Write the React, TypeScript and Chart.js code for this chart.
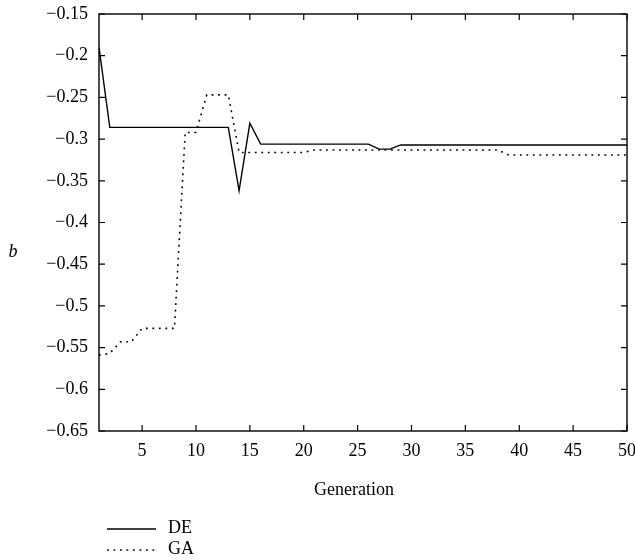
import React, { useEffect, useRef } from "react";
import { Chart, registerables } from "chart.js";

Chart.register(...registerables);

const generations = Array.from({ length: 50 }, (_, i) => i + 1);

// DE best b per generation (1..50)
const deValues = [
  -0.19, -0.286, -0.286, -0.286, -0.286, -0.286, -0.286, -0.286, -0.286, -0.286,
  -0.286, -0.286, -0.286, -0.362, -0.281, -0.306, -0.306, -0.306, -0.306, -0.306,
  -0.306, -0.306, -0.306, -0.306, -0.306, -0.306, -0.312, -0.312, -0.307, -0.307,
  -0.307, -0.307, -0.307, -0.307, -0.307, -0.307, -0.307, -0.307, -0.307, -0.307,
  -0.307, -0.307, -0.307, -0.307, -0.307, -0.307, -0.307, -0.307, -0.307, -0.307,
];

// GA best b per generation (1..50)
const gaValues = [
  -0.559, -0.557, -0.543, -0.543, -0.527, -0.527, -0.527, -0.527, -0.292, -0.292,
  -0.247, -0.247, -0.247, -0.316, -0.316, -0.316, -0.316, -0.316, -0.316, -0.316,
  -0.313, -0.313, -0.313, -0.313, -0.313, -0.313, -0.313, -0.313, -0.313, -0.313,
  -0.313, -0.313, -0.313, -0.313, -0.313, -0.313, -0.313, -0.313, -0.319, -0.319,
  -0.319, -0.319, -0.319, -0.319, -0.319, -0.319, -0.319, -0.319, -0.319, -0.319,
];

const xTicks = [5, 10, 15, 20, 25, 30, 35, 40, 45, 50];
const yTicks = [-0.65, -0.6, -0.55, -0.5, -0.45, -0.4, -0.35, -0.3, -0.25, -0.2, -0.15];
const seriesLabels = ["DE", "GA"];
const xTitle = "Generation";
const yTitle = "b";

const FONT = "'Liberation Serif', 'Times New Roman', serif";

const fmtY = (v: number) => {
  let s = v.toFixed(2);
  if (s.endsWith("0")) s = s.slice(0, -1);
  return s.replace("-", "\u2212");
};

const framePlugin = {
  id: "frame",
  afterDraw(chart: any) {
    const { ctx, chartArea } = chart;
    const { left, right, top, bottom } = chartArea;
    const xs = chart.scales.x;
    const ys = chart.scales.y;
    ctx.save();
    ctx.strokeStyle = "#000";
    ctx.lineWidth = 1.4;
    ctx.strokeRect(left, top, right - left, bottom - top);
    const tl = 6;
    ctx.lineWidth = 1.2;
    ctx.beginPath();
    xTicks.forEach((v) => {
      const px = xs.getPixelForValue(v);
      ctx.moveTo(px, bottom);
      ctx.lineTo(px, bottom - tl);
      ctx.moveTo(px, top);
      ctx.lineTo(px, top + tl);
    });
    yTicks.forEach((v) => {
      const py = ys.getPixelForValue(v);
      ctx.moveTo(left, py);
      ctx.lineTo(left + tl, py);
      ctx.moveTo(right, py);
      ctx.lineTo(right - tl, py);
    });
    ctx.stroke();

    // axis titles
    ctx.fillStyle = "#000";
    ctx.font = `18px ${FONT}`;
    ctx.textAlign = "center";
    ctx.textBaseline = "middle";
    ctx.fillText(xTitle, 354, 490);
    ctx.font = `italic 18px ${FONT}`;
    ctx.fillText(yTitle, 13, 252);

    // legend
    ctx.font = `18px ${FONT}`;
    ctx.textAlign = "left";
    const rows = [528, 549];
    chart.data.datasets.forEach((ds: any, i: number) => {
      const y = rows[i];
      ctx.beginPath();
      ctx.strokeStyle = ds.borderColor;
      ctx.lineWidth = ds.borderWidth;
      ctx.setLineDash(ds.borderDash || []);
      ctx.moveTo(107, y + 1);
      ctx.lineTo(156, y + 1);
      ctx.stroke();
      ctx.setLineDash([]);
      ctx.fillText(ds.label, 168, y);
    });
    ctx.restore();
  },
};

export default function App() {
  const ref = useRef<HTMLCanvasElement | null>(null);
  useEffect(() => {
    if (!ref.current) return;
    const chart = new Chart(ref.current, {
      type: "line",
      data: {
        labels: generations,
        datasets: [
          {
            label: seriesLabels[0],
            data: generations.map((g, i) => ({ x: g, y: deValues[i] })),
            borderColor: "#000",
            borderWidth: 1.4,
            pointRadius: 0,
            tension: 0,
            fill: false,
          },
          {
            label: seriesLabels[1],
            data: generations.map((g, i) => ({ x: g, y: gaValues[i] })),
            borderColor: "#000",
            borderWidth: 1.6,
            borderDash: [1.8, 4.7],
            pointRadius: 0,
            tension: 0,
            fill: false,
          },
        ],
      },
      options: {
        animation: false,
        responsive: false,
        maintainAspectRatio: false,
        layout: { padding: { left: 0, top: 14, right: 8, bottom: 0 } },
        plugins: { legend: { display: false }, tooltip: { enabled: false } },
        scales: {
          x: {
            type: "linear",
            min: 1,
            max: 50,
            grid: { display: false, drawTicks: false },
            border: { display: false },
            afterBuildTicks: (s: any) => {
              s.ticks = xTicks.map((v) => ({ value: v }));
            },
            afterFit: (s: any) => {
              s.height = 129;
              s.paddingLeft = 0;
              s.paddingRight = 0;
            },
            ticks: {
              autoSkip: false,
              maxRotation: 0,
              padding: 9,
              color: "#000",
              font: { family: FONT, size: 18 },
              callback: (v: any) => String(v),
            },
          },
          y: {
            min: -0.65,
            max: -0.15,
            grid: { display: false, drawTicks: false },
            border: { display: false },
            afterBuildTicks: (s: any) => {
              s.ticks = yTicks.map((v) => ({ value: v }));
            },
            afterFit: (s: any) => {
              s.width = 99;
              s.paddingTop = 0;
              s.paddingBottom = 0;
            },
            ticks: {
              autoSkip: false,
              padding: 11,
              color: "#000",
              font: { family: FONT, size: 18 },
              callback: (v: any) => fmtY(Number(v)),
            },
          },
        },
      },
      plugins: [framePlugin],
    });
    return () => chart.destroy();
  }, []);
  return (
    <div style={{ position: "absolute", left: 0, top: 0, width: 635, height: 560, background: "#fff" }}>
      <canvas ref={ref} width={635} height={560} style={{ display: "block" }} />
    </div>
  );
}
